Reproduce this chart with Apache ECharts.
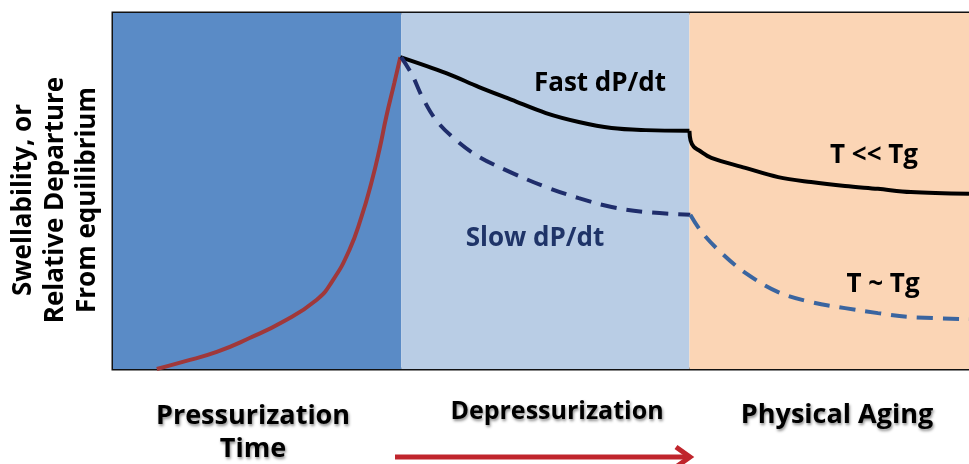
<!DOCTYPE html>
<html>
<head>
<meta charset="utf-8">
<script src="https://cdn.jsdelivr.net/npm/echarts@6/dist/echarts.min.js"></script>
<style>
  body { margin: 0; background: #fff; }
  #chart { width: 969px; height: 464px; }
</style>
</head>
<body>
<div id="chart"></div>
<script>
// time in stage units (0-1 pressurization, 1-2 depressurization, 2-3 aging), y = relative swelling 0-100
const pressurization = [[0.152, 0], [0.242, 2.0], [0.360, 4.8], [0.474, 8.7], [0.588, 13.2], [0.706, 19.4],
  [0.761, 24.7], [0.820, 33.4], [0.862, 42.7], [0.896, 52.2], [0.924, 61.5], [0.948, 70.8], [0.976, 80.3], [0.997, 87.6]]
const fastDepress = [[0.997, 87.6], [1.156, 83.1], [1.270, 79.2], [1.384, 75.6], [1.502, 71.9], [1.616, 69.4],
  [1.730, 67.7], [1.848, 67.1], [1.986, 66.9], [2.0, 66.9]]
const fastAging = [[2.0, 66.9], [2.004, 64.2], [2.015, 62.4], [2.031, 61.5], [2.076, 59.3], [2.194, 56.5],
  [2.308, 53.9], [2.422, 52.5], [2.540, 51.4], [2.654, 50.6], [2.768, 49.7], [2.97, 49.2]]
const slowDepress = [[1.0, 87.6], [1.038, 82.6], [1.073, 76.4], [1.121, 69.9], [1.190, 64.3], [1.270, 59.6],
  [1.384, 55.1], [1.502, 51.1], [1.616, 48.0], [1.730, 45.5], [1.848, 44.1], [2.003, 43.3]]
const slowAging = [[2.003, 43.3], [2.042, 38.5], [2.111, 32.6], [2.194, 27.0], [2.308, 21.6], [2.422, 18.8],
  [2.540, 17.1], [2.654, 15.7], [2.768, 14.6], [2.97, 14.0]]
const stages = [['Pressurization', 0, 1], ['Depressurization', 1, 2], ['Physical Aging', 2, 3]]
const stageColors = ['#5a8bc6', '#b9cde5', '#fbd5b5']

let chart = echarts.init(document.getElementById('chart'))
const font = '"Open Sans", "Noto Sans", sans-serif'
const shadow = { textShadowColor: 'rgba(0,0,0,0.45)', textShadowBlur: 3, textShadowOffsetX: 1, textShadowOffsetY: 2 }
const note = (text, x, y, color) => ({
  type: 'text', x: x, y: y, z: 10,
  style: { text: text, font: 'bold 26px ' + font, fill: color, align: 'center', verticalAlign: 'middle' }
})
const stageLabel = (text, x, y, size) => ({
  type: 'text', x: x, y: y, z: 10,
  style: Object.assign({ text: text, font: 'bold ' + size + 'px ' + font, fill: '#000', align: 'center', verticalAlign: 'middle', lineHeight: 33 }, shadow)
})
const curve = (data, color, width, dash, smooth) => ({
  type: 'line', data: data, smooth: smooth || 0.35, showSymbol: false, z: 3,
  lineStyle: { color: color, width: width, type: dash || 'solid' }
})

let option = {
  animation: false,
  grid: { left: 113, right: -3, top: 13, bottom: 95, show: true, borderColor: '#111', borderWidth: 3, backgroundColor: 'transparent' },
  xAxis: { type: 'value', min: 0, max: 2.97, axisLine: { show: false }, axisTick: { show: false }, axisLabel: { show: false }, splitLine: { show: false } },
  yAxis: { type: 'value', min: 0, max: 100, axisLine: { show: false }, axisTick: { show: false }, axisLabel: { show: false }, splitLine: { show: false } },
  series: [
    Object.assign(curve(pressurization, '#a0383a', 4, null, 0.5), {
      markArea: {
        silent: true,
        data: stages.map((s, i) => [{ xAxis: s[1], itemStyle: { color: stageColors[i] } }, { xAxis: s[2] }])
      }
    }),
    curve(fastDepress, '#000', 4),
    curve(fastAging, '#000', 4),
    curve(slowDepress, '#1f2d6b', 4, [16, 10]),
    curve(slowAging, '#3a65a0', 4, [16, 10])
  ],
  graphic: [
    note('Fast dP/dt', 600, 84, '#000'),
    note('Slow dP/dt', 535, 239, '#1f3468'),
    note('T << Tg', 874, 156, '#000'),
    note('T ~ Tg', 883, 285, '#000'),
    {
      type: 'text', x: 56, y: 200, rotation: Math.PI / 2, z: 10,
      style: { text: 'Swellability, or\nRelative Departure\nFrom equilibrium', font: 'bold 26px ' + font, fill: '#000',
        align: 'center', verticalAlign: 'middle', lineHeight: 32 }
    },
    stageLabel('Pressurization\nTime', 253, 433, 27),
    stageLabel('Depressurization', 557, 412, 25),
    stageLabel('Physical Aging', 837, 415, 27),
    { type: 'line', shape: { x1: 395, y1: 457, x2: 688, y2: 457 }, style: { stroke: '#c0252c', lineWidth: 5 } },
    { type: 'polyline', shape: { points: [[676, 447], [690, 457], [676, 467]] }, style: { stroke: '#c0252c', lineWidth: 5, fill: null } }
  ]
}
chart.setOption(option)
</script>
</body>
</html>
